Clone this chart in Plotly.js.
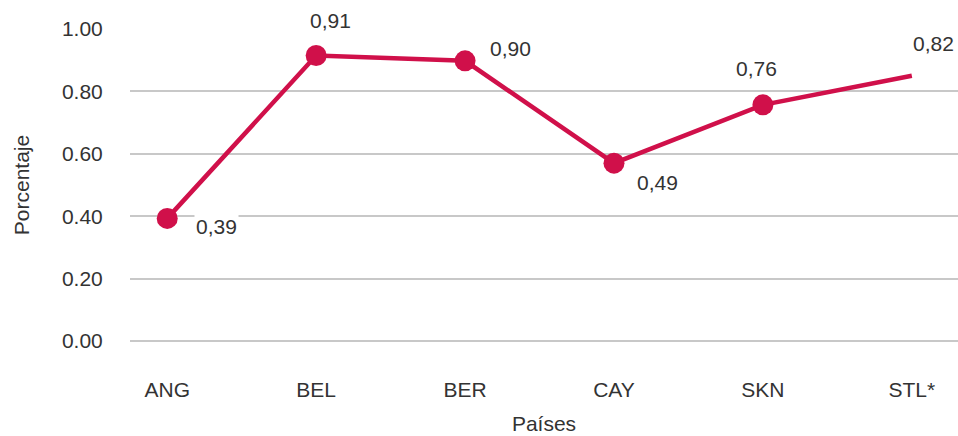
<!DOCTYPE html>
<html>
<head>
<meta charset="utf-8">
<script src="https://cdn.plot.ly/plotly-3.0.1.min.js"></script>
<style>html,body{margin:0;padding:0;background:#fff;}#chart{width:958px;height:436px;}</style>
</head>
<body>
<div id="chart"></div>
<script>
// Data
const countries = ["ANG", "BEL", "BER", "CAY", "SKN", "STL*"];
const values = [0.393, 0.915, 0.898, 0.57, 0.757, 0.85];
const valueLabels = ["0,39", "0,91", "0,90", "0,49", "0,76", "0,82"];
const showMarker = [true, true, true, true, true, false];
const yTicks = [0, 0.2, 0.4, 0.6, 0.8, 1.0];
const yTickText = ["0.00", "0.20", "0.40", "0.60", "0.80", "1.00"];

// label offsets (style only)
const labelShiftX = [49, 14, 45, 44, -6, 22];
const labelShiftY = [-8, 35, 12, -19, 36, 32];

const FONT = "Liberation Sans, Arial, sans-serif";
const TXT = "#333333";
const RED = "#d0104a";

const trace = {
  type: "scatter",
  mode: "lines+markers",
  x: countries,
  y: values,
  line: {color: RED, width: 4.5},
  marker: {color: RED, opacity: 1, line: {width: 0}, size: showMarker.map(s => s ? 21 : 0)},
  hoverinfo: "x+y",
  cliponaxis: false
};

const annotations = countries.map((c, i) => ({
  x: c, y: values[i], xref: "x", yref: "y",
  text: valueLabels[i], showarrow: false,
  xanchor: "center", yanchor: "middle",
  xshift: labelShiftX[i], yshift: labelShiftY[i],
  bgcolor: "#ffffff", borderpad: 1,
  font: {family: FONT, size: 21, color: TXT}
}));

const layout = {
  width: 958, height: 436,
  margin: {l: 130, r: 0, t: 29, b: 95},
  paper_bgcolor: "#ffffff", plot_bgcolor: "#ffffff",
  showlegend: false,
  font: {family: FONT, color: TXT},
  xaxis: {
    type: "category",
    range: [-0.25, 5.31],
    showgrid: false, showline: false, zeroline: false,
    ticks: "outside", ticklen: 30, tickcolor: "rgba(0,0,0,0)",
    tickfont: {family: FONT, size: 21, color: TXT},
    title: {text: "Países", font: {family: FONT, size: 21, color: TXT}, standoff: 16}
  },
  yaxis: {
    range: [0, 1],
    tickvals: yTicks, ticktext: yTickText,
    showgrid: true, gridcolor: "#c8c8c8", gridwidth: 2,
    zeroline: true, zerolinecolor: "#c8c8c8", zerolinewidth: 2,
    showline: false,
    ticks: "outside", ticklen: 22, tickcolor: "rgba(0,0,0,0)",
    tickfont: {family: FONT, size: 21, color: TXT},
    title: {text: "Porcentaje", font: {family: FONT, size: 21, color: TXT}, standoff: 26}
  },
  annotations: annotations
};

Plotly.newPlot("chart", [trace], layout, {displayModeBar: false, staticPlot: true});
</script>
</body>
</html>
